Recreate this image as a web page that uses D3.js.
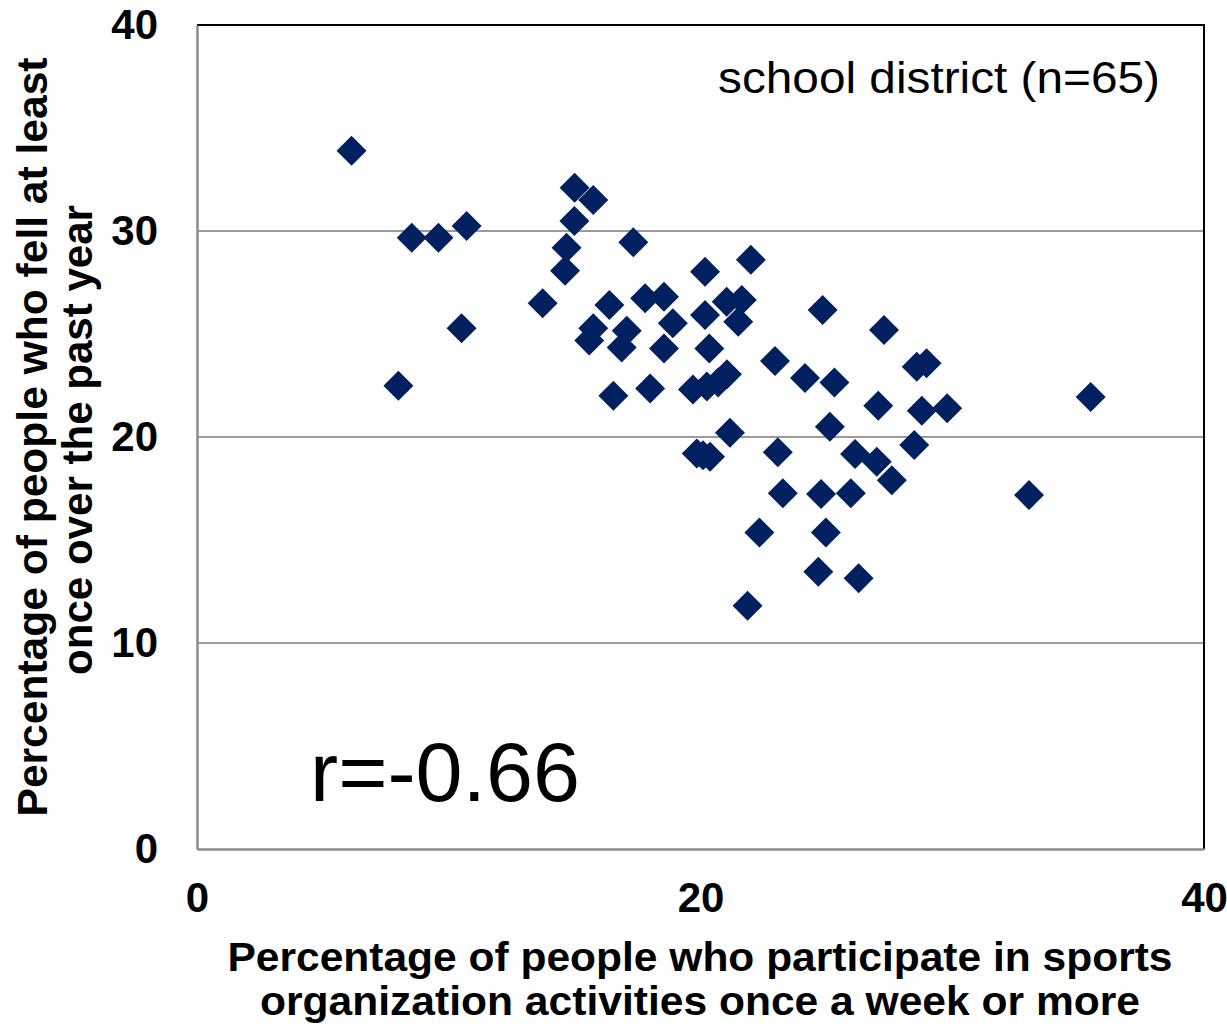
<!DOCTYPE html>
<html>
<head>
<meta charset="utf-8">
<script src="https://cdn.jsdelivr.net/npm/d3@7"></script>
<style>
  html, body { margin: 0; padding: 0; background: #fff; }
  svg { display: block; font-family: "Liberation Sans", Arial, sans-serif; }
</style>
</head>
<body>
<svg id="chart" width="1227" height="1027"></svg>
<script>
// Sports participation (%) per school district
const sportsPct = [
  6.14, 15.0, 15.74, 8.53, 9.59, 10.71, 14.99, 14.68, 14.62, 17.33,
  13.73, 10.51, 8.0, 16.38, 17.8, 15.74, 15.58, 17.07, 16.87, 16.54,
  18.0, 20.18, 22.0, 18.55, 18.9, 20.18, 21.04, 21.64, 21.5, 18.55,
  20.35, 22.96, 19.7, 20.25, 20.7, 21.05, 21.17, 19.85, 20.1, 20.38,
  23.07, 24.15, 25.32, 27.06, 28.79, 29.8, 25.14, 28.49, 26.14, 27.0,
  27.6, 23.27, 24.79, 25.97, 22.34, 24.98, 24.68, 26.28, 21.87, 24.85,
  27.29, 28.59, 28.98, 33.05, 35.5
];
// Fall experience over the past year (%) per school district
const fallPct = [
  33.9, 32.1, 31.5, 29.67, 29.67, 30.24, 30.49, 29.19, 28.07, 29.45,
  26.49, 25.28, 22.49, 26.41, 26.73, 25.28, 24.68, 25.16, 24.34, 22.0,
  22.35, 28.02, 28.6, 26.81, 25.52, 25.92, 26.57, 26.65, 25.6, 24.3,
  24.3, 23.69, 22.3, 22.45, 22.65, 23.05, 20.21, 19.2, 19.12, 19.04,
  19.26, 22.86, 22.64, 21.52, 21.28, 21.4, 20.5, 19.61, 19.17, 18.8,
  17.9, 17.27, 17.23, 17.27, 15.36, 15.37, 13.46, 13.14, 11.81, 26.17,
  25.19, 23.41, 23.58, 17.18, 21.94
];
const xTicks = [0, 20, 40];
const yTicks = [0, 10, 20, 30, 40];
const groupLabel = "school district (n=65)";
const corrLabel = "r=-0.66";
const xTitleLines = [
  "Percentage of people who participate in sports",
  "organization activities once a week or more"
];
const yTitleLines = [
  "Percentage of people who fell at least",
  "once over the past year"
];

const points = sportsPct.map((v, i) => ({ x: v, y: fallPct[i] }));

const svg = d3.select("#chart");
const plotL = 197, plotR = 1204, plotT = 25, plotB = 849;

const x = d3.scaleLinear().domain([0, 40]).range([plotL, plotR]);
const y = d3.scaleLinear().domain([0, 40]).range([plotB, plotT]);

// horizontal gridlines
svg.append("g")
  .selectAll("line")
  .data(yTicks.filter(t => t > 0 && t < 40))
  .join("line")
  .attr("x1", plotL).attr("x2", plotR)
  .attr("y1", d => y(d)).attr("y2", d => y(d))
  .attr("stroke", "#9a9a9a").attr("stroke-width", 2);

// plot frame: top and right edges in black
svg.append("path")
  .attr("d", `M${plotL},${plotT}H${plotR}V${plotB}`)
  .attr("fill", "none").attr("stroke", "#000").attr("stroke-width", 2);

// y axis
const yAxis = svg.append("g")
  .attr("transform", `translate(${plotL},0)`)
  .call(d3.axisLeft(y).tickValues(yTicks).tickSize(0).tickPadding(39).tickFormat(d3.format("d")));
yAxis.select(".domain").attr("stroke", "#8c8c8c").attr("stroke-width", 2.5);
yAxis.selectAll("text")
  .attr("font-size", 42).attr("font-weight", "bold").attr("fill", "#000")
  .attr("font-family", "Liberation Sans, Arial, sans-serif");

// x axis
const xAxis = svg.append("g")
  .attr("transform", `translate(0,${plotB})`)
  .call(d3.axisBottom(x).tickValues(xTicks).tickSize(0).tickPadding(33).tickFormat(d3.format("d")));
xAxis.select(".domain").attr("stroke", "#8c8c8c").attr("stroke-width", 2.5);
xAxis.selectAll("text")
  .attr("font-size", 42).attr("font-weight", "bold").attr("fill", "#000")
  .attr("font-family", "Liberation Sans, Arial, sans-serif");

// diamond markers
const diamond = d3.symbol().type(d3.symbolSquare).size(450);
svg.append("g")
  .selectAll("path")
  .data(points)
  .join("path")
  .attr("d", diamond)
  .attr("transform", d => `translate(${x(d.x)},${y(d.y)}) rotate(45)`)
  .attr("fill", "#002060");

// annotations
svg.append("text")
  .attr("x", 1160).attr("y", 93)
  .attr("text-anchor", "end")
  .attr("font-size", 44)
  .attr("textLength", 442)
  .attr("lengthAdjust", "spacingAndGlyphs")
  .attr("fill", "#000")
  .text(groupLabel);

svg.append("text")
  .attr("x", 310).attr("y", 801)
  .attr("font-size", 84)
  .attr("textLength", 270)
  .attr("lengthAdjust", "spacingAndGlyphs")
  .attr("fill", "#000")
  .text(corrLabel);

// x axis title
const xTitleLayout = [
  { y: 971, len: 945 },
  { y: 1015, len: 880 }
];
svg.append("g")
  .selectAll("text")
  .data(xTitleLines)
  .join("text")
  .attr("x", 700)
  .attr("y", (d, i) => xTitleLayout[i].y)
  .attr("text-anchor", "middle")
  .attr("font-size", 41)
  .attr("font-weight", "bold")
  .attr("textLength", (d, i) => xTitleLayout[i].len)
  .attr("lengthAdjust", "spacingAndGlyphs")
  .text(d => d);

// y axis title (rotated)
const yTitleLayout = [
  { x: 47, cy: 437, len: 759 },
  { x: 92, cy: 440, len: 470 }
];
svg.append("g")
  .selectAll("text")
  .data(yTitleLines)
  .join("text")
  .attr("transform", (d, i) => `translate(${yTitleLayout[i].x},${yTitleLayout[i].cy}) rotate(-90)`)
  .attr("text-anchor", "middle")
  .attr("font-size", 42)
  .attr("font-weight", "bold")
  .attr("textLength", (d, i) => yTitleLayout[i].len)
  .attr("lengthAdjust", "spacingAndGlyphs")
  .text(d => d);
</script>
</body>
</html>
